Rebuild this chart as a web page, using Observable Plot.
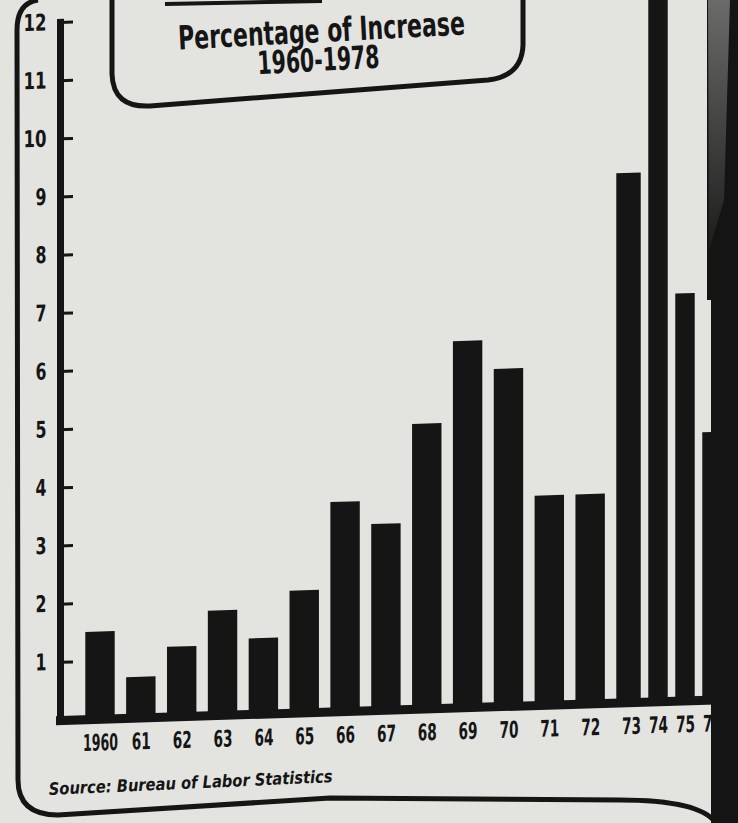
<!DOCTYPE html>
<html><head><meta charset="utf-8">
<script src="https://cdn.jsdelivr.net/npm/d3@7"></script>
<script src="https://cdn.jsdelivr.net/npm/@observablehq/plot@0.6"></script>
<style>
html,body{margin:0;padding:0;background:#e3e3e0;}
#chart{position:relative;width:738px;height:823px;overflow:hidden;background:#e3e3e0;}
#chart > svg{position:absolute;left:0;top:0;}
#plotwrap svg{transform:skewY(-1.8deg);transform-origin:60px 720px;}
#edge{position:absolute;left:711px;top:0;width:27px;height:823px;background:#141414;}
</style></head><body><div id="chart"><div id="plotwrap"></div></div>
<script>
const years = [1960,1961,1962,1963,1964,1965,1966,1967,1968,1969,1970,1971,1972,1973,1974,1975,1976];
const increases = [1.5,0.7,1.2,1.8,1.3,2.1,3.6,3.2,4.9,6.3,5.8,3.6,3.6,9.1,12.5,7.0,4.6];
const xLabels = ["1960","61","62","63","64","65","66","67","68","69","70","71","72","73","74","75","76"];
const yTicks = [1,2,3,4,5,6,7,8,9,10,11,12];
const titleLines = ["Percentage of Increase","1960-1978"];
const sourceText = "Source: Bureau of Labor Statistics";

const font = '"Liberation Sans Narrow","DejaVu Sans Condensed","Roboto Condensed",sans-serif';
const ink = "#151515";
const data = years.map((year, i) => ({year, value: increases[i]}));

const plot = Plot.plot({
  width: 738, height: 823,
  marginTop: 22, marginBottom: 103, marginLeft: 60, marginRight: 28,
  style: {background: "transparent", fontFamily: font, fontWeight: "bold", color: ink, overflow: "visible"},
  x: {type: "linear", domain: [1960, 1973, 1976], range: [100, 631, 712], axis: null},
  y: {domain: [0, 12], axis: null},
  marks: [
    Plot.rectY(data, {x1: d => d.year - 0.36, x2: d => d.year + 0.36, y1: 0, y2: "value", fill: ink}),
    Plot.axisY(yTicks, {anchor: "left", label: null, tickSize: 0, tickPadding: 14, fontSize: 23, fontWeight: "bold", fill: ink, tickFormat: d => String(d)}),
    Plot.axisY(yTicks, {anchor: "left", label: null, tickSize: -13, strokeWidth: 3, stroke: ink, tickFormat: () => ""}),
    Plot.axisX(years, {anchor: "bottom", label: null, tickSize: 0, tickPadding: 15, fontSize: 23, fontWeight: "bold", fill: ink, tickFormat: d => xLabels[years.indexOf(d)]}),
    Plot.frame({anchor: "left", stroke: ink, strokeWidth: 7, strokeLinecap: "square"}),
    Plot.frame({anchor: "bottom", stroke: ink, strokeWidth: 9, strokeLinecap: "square"})
  ]
});
document.getElementById("plotwrap").appendChild(plot);

// condensed look of the tick labels
d3.select(plot).selectAll('g[aria-label="x-axis tick label"] text').each(function() {
  const t = this.textContent;
  if (t) d3.select(this).attr("textLength", t.length === 4 ? 35 : 19).attr("lengthAdjust", "spacingAndGlyphs");
});
d3.select(plot).selectAll('g[aria-label="y-axis tick label"] text').each(function() {
  const t = this.textContent;
  if (t) d3.select(this).attr("textLength", t.length === 2 ? 23 : 11).attr("lengthAdjust", "spacingAndGlyphs");
});

// decorations overlay (frame, title box, source)
const chart = d3.select("#chart");
chart.append("div").attr("id", "edge");
const ov = chart.append("svg").attr("width", 738).attr("height", 823).style("pointer-events", "none");
const defs = ov.append("defs");
const g = defs.append("linearGradient").attr("id", "shade").attr("x1", 0).attr("x2", 0).attr("y1", 0).attr("y2", 1);
g.append("stop").attr("offset", "0%").attr("stop-color", "#6a6a68");
g.append("stop").attr("offset", "100%").attr("stop-color", "#1c1c1c");
ov.append("path").attr("d", "M707,0 L712,0 L712,300 L707,300 Z").attr("fill", "#141414");
ov.append("path").attr("d", "M708,0 L730,0 L724,200 L709,250 Z").attr("fill", "url(#shade)");

// outer frame
ov.append("path")
  .attr("d", "M38,0 Q17,3 17,30 L18,780 Q18,815 58,815 L330,798 L620,800 Q700,800 716,823")
  .attr("fill", "none").attr("stroke", ink).attr("stroke-width", 5).attr("stroke-linejoin", "round");

// title box
ov.append("path")
  .attr("d", "M112,-10 L112,74 Q113,108 150,106 L488,80 Q522,76 523,45 L523,-10")
  .attr("fill", "none").attr("stroke", ink).attr("stroke-width", 5);
ov.append("path").attr("d", "M165,4 L322,1").attr("stroke", ink).attr("stroke-width", 4);
ov.append("text").text(titleLines[0])
  .attr("x", 322).attr("y", 42).attr("text-anchor", "middle")
  .attr("transform", "rotate(-3 322 42)")
  .attr("font-family", font).attr("font-weight", "bold").attr("font-size", 33)
  .attr("textLength", 287).attr("lengthAdjust", "spacingAndGlyphs").attr("fill", ink);
ov.append("text").text(titleLines[1])
  .attr("x", 319).attr("y", 71).attr("text-anchor", "middle")
  .attr("transform", "rotate(-3 319 71)")
  .attr("font-family", font).attr("font-weight", "bold").attr("font-size", 32)
  .attr("textLength", 122).attr("lengthAdjust", "spacingAndGlyphs").attr("fill", ink);

// source
ov.append("text").text(sourceText)
  .attr("x", 49).attr("y", 795)
  .attr("transform", "rotate(-2.6 49 795)")
  .attr("font-family", font).attr("font-weight", "bold").attr("font-style", "italic").attr("font-size", 17)
  .attr("textLength", 284).attr("lengthAdjust", "spacingAndGlyphs").attr("fill", ink);
</script>
</body></html>
